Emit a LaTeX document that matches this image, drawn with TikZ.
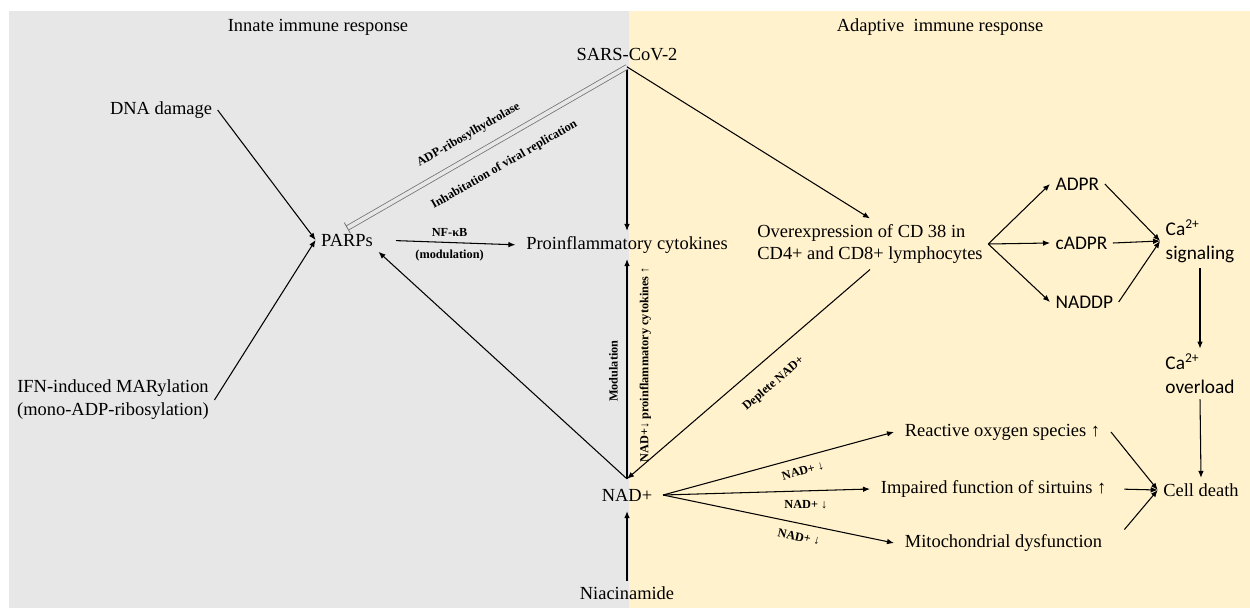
\documentclass[tikz,border=0pt]{standalone}
\usepackage{fontspec}
\setmainfont{Liberation Serif}
\newfontfamily\calibri{Carlito}
\usetikzlibrary{positioning}
\usetikzlibrary{arrows.meta}
\definecolor{innategray}{HTML}{E7E7E7}
\definecolor{adaptyellow}{HTML}{FFF2CC}

\begin{document}
\begin{tikzpicture}[
  x=0.02cm, y=-0.02cm,
  txt/.style={font=\fontsize{10.5}{13}\selectfont, inner sep=3pt, align=center},
  sans/.style={font=\calibri\fontsize{11}{13.5}\selectfont, inner sep=3pt, align=left},
  lbl/.style={font=\bfseries\fontsize{7}{8}\selectfont, inner sep=1pt},
  arrow/.style={-{Latex[length=4pt,width=3.2pt]}, line width=0.6pt},
  backarrow/.style={{Latex[length=4pt,width=3.2pt]}-, line width=0.6pt},
  inhib/.style={draw=black!55, line width=0.45pt, double=innategray, double distance=2.2pt, {Bar[width=7pt]}-}
]
  \useasboundingbox (0,0) rectangle (1250,608);
  % Hintergrund
  \fill[innategray] (9,11) rectangle (629,608);
  \fill[adaptyellow] (629,11) rectangle (1250,608);

  \node[txt] (innate) at (318,27) {Innate immune response};
  \node[txt] (adaptive) at (940,27) {Adaptive~ immune response};

  % Angeborene Antwort
  \node[txt] (sars) at (627,55) {SARS-CoV-2};
  \node[txt] (dna) at (161,110) {DNA damage};
  \node[txt] (ifn) at (113,400) {IFN-induced MARylation\\(mono-ADP-ribosylation)};
  \node[txt] (parps) at (347,240) {PARPs};
  \node[txt] (cyto) at (627,245) {Proinflammatory cytokines};
  \node[txt, inner xsep=6pt, inner ysep=5.5pt] (nad) at (627,495) {NAD+};
  \node[txt] (niacin) at (627,593) {Niacinamide};

  \draw[arrow] (dna.east) -- (parps.west);
  \draw[arrow] (ifn.east) -- (parps.west);
  \draw[arrow, shorten <=10pt, shorten >=3pt] (parps.east) -- node[lbl, above=2pt] {NF-κB} node[lbl, below=3pt] {(modulation)} (cyto.west);
  \draw[arrow] (sars.south) -- (cyto.north);
  \draw[inhib] (parps.north) -- node[lbl, sloped, pos=0.47, above=7pt] {ADP-ribosylhydrolase} node[lbl, sloped, pos=0.52, below=9pt] {Inhabitation of viral replication} (sars.south);
  \draw[arrow] (nad.north) -- node[lbl, sloped, pos=0.49, above=4pt] {Modulation} node[lbl, sloped, pos=0.52, below=6pt] {NAD+↓ proinflammatory cytokines ↑} (cyto.south);
  \draw[arrow] (nad.north) -- (parps.south east);
  \draw[arrow] (niacin.north) -- (nad.south);

  % Adaptive Antwort
  \node[txt, align=left] (cd38) at (870,244) {Overexpression of CD 38 in\\CD4+ and CD8+ lymphocytes};
  \node[sans, anchor=west] (adpr) at (1050,184) {ADPR};
  \node[sans, anchor=west] (cadpr) at (1050,243) {cADPR};
  \node[sans, anchor=west] (naddp) at (1050,302) {NADDP};
  \node[sans] (casig) at (1200,241) {Ca\textsuperscript{2+}\\signaling};
  \node[sans] (caover) at (1200,374) {Ca\textsuperscript{2+}\\overload};
  \node[txt] (death) at (1201,490) {Cell death};
  \node[txt, anchor=west, inner xsep=6pt] (ros) at (894,432) {Reactive oxygen species ↑};
  \node[txt, anchor=west, inner xsep=6pt] (sirt) at (870,489) {Impaired function of sirtuins ↑};
  \node[txt, anchor=west, inner xsep=6pt] (mito) at (894,543) {Mitochondrial dysfunction};

  \draw[arrow] (sars.south) -- (cd38.north);
  \draw[backarrow] (nad.north) -- node[lbl, sloped, pos=0.54, below=9pt] {Deplete NAD+} (cd38.south);
  \draw[arrow] (cd38.east) -- (adpr.west);
  \draw[arrow] (cd38.east) -- (cadpr.west);
  \draw[arrow] (cd38.east) -- (naddp.west);
  \draw[arrow] (adpr.east) -- (casig.west);
  \draw[arrow] (cadpr.east) -- (casig.west);
  \draw[arrow] (naddp.east) -- (casig.west);
  \draw[arrow] (casig.south) -- (caover.north);
  \draw[arrow] (caover.south) -- (death.north);

  \draw[arrow] (nad.east) -- node[lbl, sloped, pos=0.59, below=4pt] {NAD+ ↓} (ros.west);
  \draw[arrow] (nad.east) -- node[lbl, pos=0.69, below=4pt] {NAD+ ↓} (sirt.west);
  \draw[arrow] (nad.east) -- node[lbl, sloped, pos=0.6, below=4pt] {NAD+ ↓} (mito.west);
  \draw[arrow] (ros.east) -- (death.west);
  \draw[arrow, shorten <=4pt] (sirt.east) -- (death.west);
  \draw[arrow, shorten <=10pt] (mito.east) -- (death.west);
\end{tikzpicture}
\end{document}
